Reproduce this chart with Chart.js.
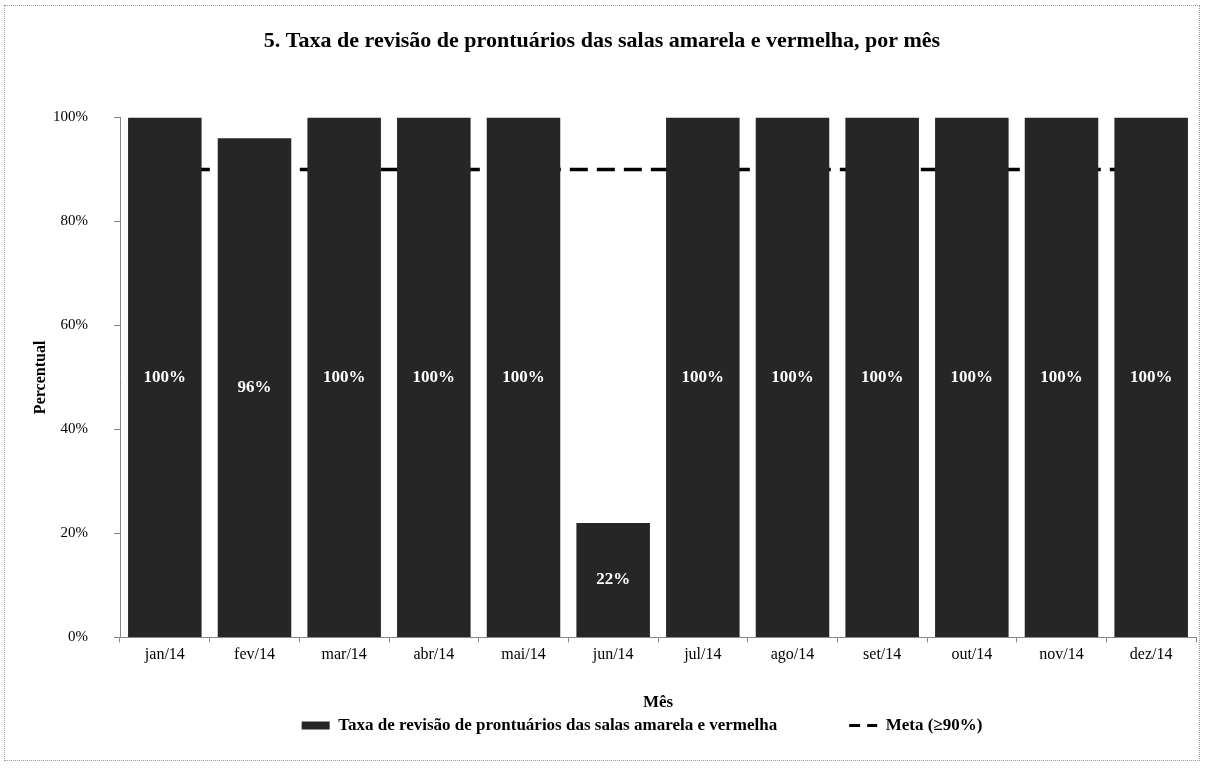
<!DOCTYPE html>
<html>
<head>
<meta charset="utf-8">
<script src="https://cdn.jsdelivr.net/npm/chart.js@4"></script>
<style>
  body { margin: 0; background: #fff; }
  #wrap { position: absolute; left: 4px; top: 5px; width: 1194px; height: 754px; border: 1px dotted #999; }
</style>
</head>
<body>
<div id="wrap"><canvas id="chart"></canvas></div>
<script>
const months = ['jan/14', 'fev/14', 'mar/14', 'abr/14', 'mai/14', 'jun/14', 'jul/14', 'ago/14', 'set/14', 'out/14', 'nov/14', 'dez/14'];
const taxa = [100, 96, 100, 100, 100, 22, 100, 100, 100, 100, 100, 100];
const meta = [90, 90, 90, 90, 90, 90, 90, 90, 90, 90, 90, 90];
const yTicks = [0, 20, 40, 60, 80, 100];

const serif = '"Liberation Serif", "Times New Roman", serif';
Chart.defaults.font.family = serif;
Chart.defaults.color = '#000';

/* white % labels in the middle of each bar */
const barLabels = {
    id: 'barLabels',
    afterDatasetsDraw(chart) {
        const ctx = chart.ctx;
        const bars = chart.getDatasetMeta(0).data;
        ctx.save();
        ctx.font = 'bold 17px ' + serif;
        ctx.fillStyle = '#fff';
        ctx.textAlign = 'center';
        ctx.textBaseline = 'middle';
        bars.forEach((bar, i) => {
            ctx.fillText(taxa[i] + '%', bar.x, (bar.y + bar.base) / 2);
        });
        ctx.restore();
    }
};

/* legend sits a bit right of centre in the original */
const legendShift = {
    id: 'legendShift',
    afterLayout(chart) {
        chart.legend.left += 40;
        chart.legend.right += 40;
    }
};

new Chart(document.getElementById('chart'), {
    type: 'bar',
    data: {
        labels: months,
        datasets: [
            {
                label: 'Taxa de revisão de prontuários das salas amarela e vermelha',
                data: taxa,
                backgroundColor: '#262626',
                categoryPercentage: 1,
                barPercentage: 0.82,
                order: 1,
            },
            {
                type: 'line',
                label: 'Meta (≥90%)',
                data: meta,
                borderColor: '#000',
                borderWidth: 3.5,
                borderDash: [18, 9],
                pointRadius: 0,
                fill: false,
                order: 2,
            },
        ],
    },
    options: {
        responsive: true,
        maintainAspectRatio: false,
        animation: false,
        layout: { padding: { left: 3, right: 3, top: 0, bottom: 16 } },
        plugins: {
            title: {
                display: true,
                text: '5. Taxa de revisão de prontuários das salas amarela e vermelha, por mês',
                font: { size: 22, weight: 'bold' },
                padding: { top: 22, bottom: 63 },
            },
            legend: {
                position: 'bottom',
                labels: {
                    usePointStyle: true,
                    pointStyleWidth: 28,
                    boxWidth: 28,
                    boxHeight: 8,
                    padding: 4,
                    font: { size: 17, weight: 'bold' },
                    generateLabels: () => [
                        { text: 'Taxa de revisão de prontuários das salas amarela e vermelha\u2003\u2003\u2003\u2003', fillStyle: '#262626', strokeStyle: '#262626', lineWidth: 0, pointStyle: 'rect', datasetIndex: 0 },
                        { text: 'Meta (≥90%)', fillStyle: '#000', strokeStyle: '#000', lineWidth: 3, lineDash: [11, 7], pointStyle: 'line', datasetIndex: 1 },
                    ],
                },
            },
            tooltip: { enabled: false },
        },
        scales: {
            x: {
                grid: { display: true, drawOnChartArea: false, tickLength: 5, color: '#888' },
                border: { color: '#888' },
                ticks: { font: { size: 16 }, padding: 3 },
                title: { display: true, text: 'Mês', font: { size: 17, weight: 'bold' }, padding: { top: 25, bottom: 0 } },
            },
            y: {
                min: yTicks[0],
                max: yTicks[yTicks.length - 1],
                afterFit: axis => { axis.width = 112; },
                grid: { display: true, drawOnChartArea: false, tickLength: 6, color: '#888' },
                border: { color: '#888' },
                ticks: { font: { size: 15 }, padding: 26, stepSize: yTicks[1] - yTicks[0], callback: v => v + '%' },
                title: { display: true, text: 'Percentual', font: { size: 16, weight: 'bold' }, padding: { top: 23, bottom: 4 } },
            },
        },
    },
    plugins: [barLabels, legendShift],
});
</script>
</body>
</html>
